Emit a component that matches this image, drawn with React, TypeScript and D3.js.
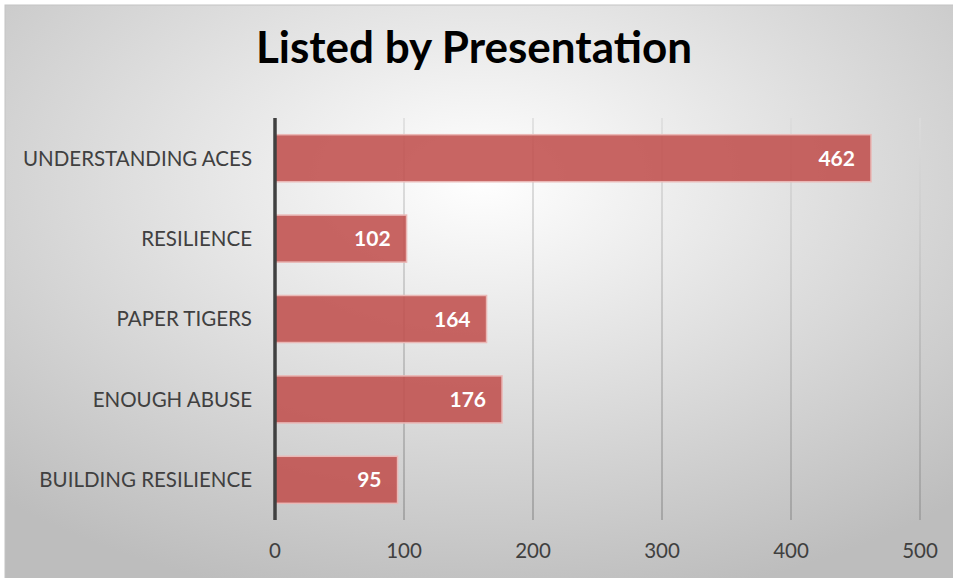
import React from "react";
import * as d3 from "d3";

const categories = ["UNDERSTANDING ACES", "RESILIENCE", "PAPER TIGERS", "ENOUGH ABUSE", "BUILDING RESILIENCE"];
const values = [462, 102, 164, 176, 95];
const ticks = [0, 100, 200, 300, 400, 500];
const title = "Listed by Presentation";

export default function App() {
  const W = 953, H = 578;
  const x = d3.scaleLinear().domain([0, 500]).range([275, 920]);
  const y = d3.scaleBand<string>().domain(categories).range([118, 520]).paddingInner(0.415).paddingOuter(0.2075);
  const font = "Lato, 'Open Sans', sans-serif";
  return (
    <svg width={W} height={H} style={{ position: "absolute", left: 0, top: 0 }} fontFamily={font}>
      <defs>
        <radialGradient id="bg" cx="50%" cy="30%" r="75%">
          <stop offset="0%" stopColor="#ffffff" />
          <stop offset="100%" stopColor="#bdbdbd" />
        </radialGradient>
        <linearGradient id="grid" gradientUnits="userSpaceOnUse" x1="0" y1="118" x2="0" y2="520">
          <stop offset="0%" stopColor="#dcdcdc" />
          <stop offset="100%" stopColor="#9a9a9a" />
        </linearGradient>
      </defs>
      <rect x={0} y={0} width={W} height={H} fill="#ffffff" />
      <rect x={5} y={5} width={W} height={H} fill="url(#bg)" stroke="#c4c4c4" strokeWidth={1} />
      <text x={474} y={63} textAnchor="middle" fontSize={44} fontWeight={700} fill="#000">{title}</text>
      {ticks.filter(t => t > 0).map(t => (
        <line key={t} x1={x(t)} x2={x(t)} y1={118} y2={520} stroke="url(#grid)" strokeWidth={1.5} />
      ))}
      {categories.map((c, i) => (
        <g key={c}>
          <rect x={x(0)} y={y(c)!} width={x(values[i]) - x(0)} height={y.bandwidth()}
            fill="#c0504d" fillOpacity={0.88} stroke="#eab8b6" strokeWidth={1.5} />
          <text x={x(values[i]) - 16} y={y(c)! + y.bandwidth() / 2} dy="0.36em" textAnchor="end"
            fontSize={21} fontWeight={700} fill="#fff">{values[i]}</text>
          <text x={252} y={y(c)! + y.bandwidth() / 2} dy="0.36em" textAnchor="end"
            fontSize={20.5} fill="#404040">{c}</text>
        </g>
      ))}
      <line x1={x(0)} x2={x(0)} y1={118} y2={520} stroke="#404040" strokeWidth={3.5} />
      {ticks.map(t => (
        <text key={t} x={x(t)} y={551} dy="0.36em" textAnchor="middle" fontSize={20.5} fill="#404040">{t}</text>
      ))}
    </svg>
  );
}
